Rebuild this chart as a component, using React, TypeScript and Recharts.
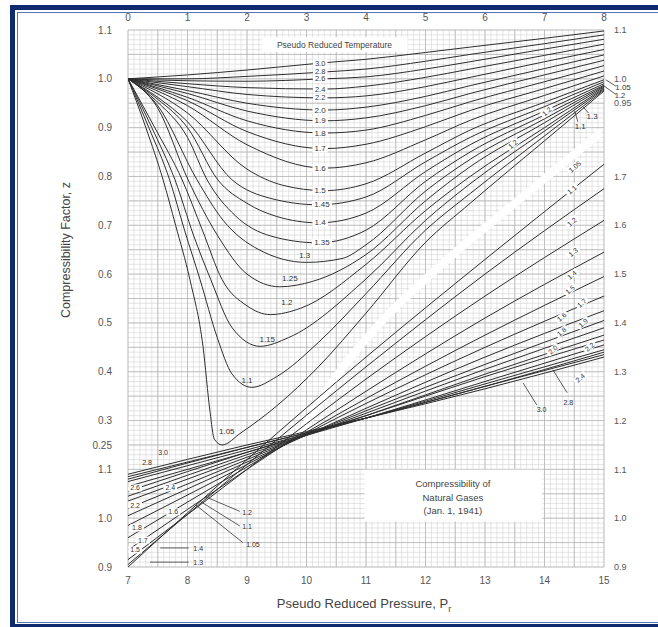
import React from 'react';
import {
  LineChart,
  Line,
  XAxis,
  YAxis,
  CartesianGrid,
  ReferenceArea,
  ReferenceDot,
  ReferenceLine,
} from 'recharts';

const FONT = '"Liberation Sans", Arial, sans-serif';

// ---------- axis ticks ----------
const topPrTicks = [0, 1, 2, 3, 4, 5, 6, 7, 8];
const bottomPrTicks = [7, 8, 9, 10, 11, 12, 13, 14, 15];
const leftZTicks = [0, 0.1, 0.2, 0.25, 0.3, 0.4, 0.5, 0.6, 0.7, 0.8, 0.9, 1.0, 1.1];
const rightZTicks = [0.9, 1.0, 1.1, 1.2, 1.3, 1.4, 1.5, 1.6, 1.7, 1.85, 1.9, 2.0];
const minorPrGrid = Array.from({ length: 81 }, (_, i) => i / 10);
const minorZGrid = Array.from({ length: 111 }, (_, i) => i / 100);
const majorPrGrid = Array.from({ length: 17 }, (_, i) => i / 2);
const majorZGrid = Array.from({ length: 23 }, (_, i) => i / 20);

// ---------- upper chart (Pr 0-8): [Pr, z] ----------
type P = [number, number];
const t300: P[] = [[0, 1], [1, 1.008], [2, 1.018], [3.3, 1.033], [4, 1.04], [5, 1.054], [5.75, 1.065], [7, 1.083], [8, 1.098]];
const t280: P[] = [[0, 1], [1, 1.0], [2, 1.005], [3.3, 1.014], [4, 1.02], [5, 1.036], [5.75, 1.05], [7, 1.072], [8, 1.09]];
const t260: P[] = [[0, 1], [1, 0.996], [2, 0.995], [3.3, 1.0], [4, 1.004], [5, 1.02], [5.75, 1.035], [7, 1.061], [8, 1.081]];
const t240: P[] = [[0, 1], [1, 0.99], [2, 0.982], [3.3, 0.979], [4, 0.985], [5, 1.003], [5.75, 1.02], [7, 1.048], [8, 1.071]];
const t220: P[] = [[0, 1], [1, 0.984], [2, 0.968], [3.3, 0.961], [4, 0.965], [5, 0.984], [5.75, 1.003], [7, 1.035], [8, 1.06]];
const t200: P[] = [[0, 1], [1, 0.976], [2, 0.95], [3.3, 0.936], [4, 0.942], [5, 0.964], [5.75, 0.986], [7, 1.021], [8, 1.049]];
const t190: P[] = [[0, 1], [1, 0.97], [2, 0.934], [3.3, 0.914], [4, 0.92], [5, 0.945], [5.75, 0.97], [7, 1.008], [8, 1.038]];
const t180: P[] = [[0, 1], [1, 0.962], [2, 0.914], [3.3, 0.889], [4, 0.895], [5, 0.925], [5.75, 0.953], [7, 0.994], [8, 1.027]];
const t170: P[] = [[0, 1], [1, 0.955], [2, 0.892], [3.3, 0.857], [4, 0.866], [5, 0.902], [5.75, 0.935], [7, 0.98], [8, 1.016]];
const t160: P[] = [[0, 1], [1, 0.945], [2, 0.865], [3.3, 0.817], [4, 0.828], [5, 0.875], [5.75, 0.915], [7, 0.966], [8, 1.006]];
const t150: P[] = [[0, 1], [1, 0.93], [2, 0.815], [2.6, 0.782], [3.3, 0.771], [4, 0.785], [5, 0.848], [5.75, 0.895], [7, 0.952], [8, 0.998]];
const t145: P[] = [[0, 1], [0.5, 0.962], [1, 0.912], [1.75, 0.793], [2.4, 0.755], [3.2, 0.742], [4, 0.758], [5, 0.83], [5.75, 0.88], [7, 0.943], [8, 0.994]];
const t140: P[] = [[0, 1], [0.5, 0.958], [1, 0.9], [1.51, 0.793], [2, 0.745], [2.5, 0.718], [3.2, 0.705], [4, 0.725], [5, 0.81], [5.75, 0.865], [7, 0.934], [8, 0.99]];
const t135: P[] = [[0, 1], [0.5, 0.952], [1, 0.88], [1.33, 0.793], [1.8, 0.72], [2.4, 0.678], [3.2, 0.664], [4, 0.69], [5, 0.79], [5.75, 0.85], [7, 0.926], [8, 0.987]];
const t130: P[] = [[0, 1], [0.5, 0.945], [1.16, 0.793], [1.6, 0.71], [2.2, 0.65], [3.0, 0.624], [3.6, 0.632], [4, 0.66], [5, 0.77], [5.75, 0.835], [7, 0.918], [8, 0.985]];
const t125: P[] = [[0, 1], [0.5, 0.94], [1.01, 0.793], [1.5, 0.68], [2.0, 0.6], [2.55, 0.574], [3.1, 0.585], [4, 0.64], [5, 0.75], [5.75, 0.82], [7, 0.91], [8, 0.983]];
const t120: P[] = [[0, 1], [0.45, 0.9], [0.91, 0.793], [1.25, 0.69], [1.58, 0.589], [2.0, 0.535], [2.39, 0.517], [2.9, 0.53], [4, 0.62], [5, 0.73], [5.75, 0.8], [7, 0.9], [8, 0.981]];
const t115: P[] = [[0, 1], [0.4, 0.9], [0.79, 0.793], [1.1, 0.68], [1.39, 0.589], [1.75, 0.49], [2.22, 0.452], [2.7, 0.47], [4, 0.59], [5, 0.71], [5.75, 0.785], [7, 0.893], [8, 0.979]];
const t110: P[] = [[0, 1], [0.35, 0.9], [0.7, 0.793], [0.95, 0.69], [1.21, 0.589], [1.5, 0.47], [1.75, 0.395], [2.08, 0.368], [2.5, 0.39], [3.2, 0.46], [4, 0.56], [5, 0.69], [5.75, 0.765], [7, 0.883], [8, 0.977]];
const t105: P[] = [[0, 1], [0.3, 0.9], [0.59, 0.793], [0.8, 0.7], [1.04, 0.589], [1.26, 0.452], [1.38, 0.317], [1.45, 0.262], [1.58, 0.25], [1.9, 0.275], [2.5, 0.33], [3.2, 0.41], [4, 0.52], [5, 0.665], [5.75, 0.745], [7, 0.873], [8, 0.975]];

const upperCurves: { tpr: string; pts: P[] }[] = [
  { tpr: '3.0', pts: t300 }, { tpr: '2.8', pts: t280 }, { tpr: '2.6', pts: t260 },
  { tpr: '2.4', pts: t240 }, { tpr: '2.2', pts: t220 }, { tpr: '2.0', pts: t200 },
  { tpr: '1.9', pts: t190 }, { tpr: '1.8', pts: t180 }, { tpr: '1.7', pts: t170 },
  { tpr: '1.6', pts: t160 }, { tpr: '1.5', pts: t150 }, { tpr: '1.45', pts: t145 },
  { tpr: '1.4', pts: t140 }, { tpr: '1.35', pts: t135 }, { tpr: '1.3', pts: t130 },
  { tpr: '1.25', pts: t125 }, { tpr: '1.2', pts: t120 }, { tpr: '1.15', pts: t115 },
  { tpr: '1.1', pts: t110 }, { tpr: '1.05', pts: t105 },
];

// blank strip between the two families of curves
const gapBand: P[] = [[2.85, 0.262], [3.5, 0.39], [4.24, 0.5], [5.0, 0.59], [5.75, 0.67], [6.6, 0.755], [7.38, 0.834], [7.95, 0.89]];

// ---------- lower chart (Pr 7-15) ----------
const lowerPr = [7, 9, 11, 13, 15];
const lowerCurves: { tpr: string; z: number[] }[] = [
  { tpr: '1.05', z: [0.9, 1.12, 1.33, 1.53, 1.725] },
  { tpr: '1.1', z: [0.905, 1.11, 1.31, 1.5, 1.675] },
  { tpr: '1.2', z: [0.915, 1.1, 1.285, 1.455, 1.61] },
  { tpr: '1.3', z: [0.935, 1.1, 1.26, 1.41, 1.545] },
  { tpr: '1.4', z: [0.96, 1.105, 1.245, 1.375, 1.495] },
  { tpr: '1.5', z: [0.985, 1.11, 1.235, 1.35, 1.455] },
  { tpr: '1.6', z: [1.005, 1.115, 1.225, 1.33, 1.425] },
  { tpr: '1.7', z: [1.02, 1.12, 1.22, 1.315, 1.405] },
  { tpr: '1.8', z: [1.035, 1.125, 1.215, 1.305, 1.39] },
  { tpr: '1.9', z: [1.045, 1.13, 1.21, 1.295, 1.375] },
  { tpr: '2.0', z: [1.055, 1.135, 1.21, 1.29, 1.365] },
  { tpr: '2.2', z: [1.065, 1.135, 1.205, 1.28, 1.355] },
  { tpr: '2.4', z: [1.075, 1.14, 1.205, 1.275, 1.345] },
  { tpr: '2.6', z: [1.08, 1.145, 1.205, 1.27, 1.34] },
  { tpr: '2.8', z: [1.085, 1.145, 1.205, 1.27, 1.335] },
  { tpr: '3.0', z: [1.09, 1.15, 1.205, 1.265, 1.33] },
];

// ---------- labels: [text, Pr, z, size, whiteBg, angle] ----------
type Tag = [string, number, number, number, boolean, number];
const upperTags: Tag[] = [
  ['3.0', 3.23, 1.032, 7.5, true, 0], ['2.8', 3.23, 1.016, 7.5, true, 0], ['2.6', 3.23, 1.0, 7.5, true, 0],
  ['2.4', 3.23, 0.979, 7.5, true, 0], ['2.2', 3.23, 0.961, 7.5, true, 0], ['2.0', 3.23, 0.936, 8, true, 0],
  ['1.9', 3.23, 0.914, 8, true, 0], ['1.8', 3.23, 0.889, 8, true, 0], ['1.7', 3.23, 0.857, 8, true, 0],
  ['1.6', 3.23, 0.817, 8, true, 0], ['1.5', 3.23, 0.771, 8, true, 0], ['1.45', 3.26, 0.742, 8, true, 0],
  ['1.4', 3.23, 0.705, 8, true, 0], ['1.35', 3.26, 0.664, 8, true, 0],
  ['1.3', 2.97, 0.638, 8, false, 0], ['1.25', 2.72, 0.59, 8, false, 0], ['1.2', 2.67, 0.541, 8, false, 0],
  ['1.15', 2.34, 0.465, 8, false, 0], ['1.1', 2.0, 0.382, 8, false, 0], ['1.05', 1.66, 0.278, 8, false, 0],
  ['1.3', 7.8, 0.922, 8, false, 0], ['1.1', 7.6, 0.902, 8, false, 0],
  ['1.2', 7.04, 0.933, 7, true, -40], ['1.2', 6.47, 0.866, 7, true, -40],
  ['1.05', 8.32, 0.982, 8, false, 0], ['1.2', 8.27, 0.966, 7.5, false, 0],
];
const lowerTags: Tag[] = [
  ['1.05', 14.51, 1.72, 7, true, -40], ['1.1', 14.46, 1.673, 7, true, -40], ['1.2', 14.46, 1.607, 7, true, -40],
  ['1.3', 14.48, 1.545, 7, true, -40], ['1.4', 14.46, 1.498, 7, true, -40], ['1.5', 14.43, 1.468, 7, true, -40],
  ['1.6', 14.29, 1.412, 7, true, -40], ['1.7', 14.63, 1.441, 7, true, -40], ['1.8', 14.29, 1.382, 7, true, -40],
  ['1.9', 14.65, 1.4, 7, true, -40], ['2.0', 14.14, 1.345, 7, true, -40], ['2.2', 14.76, 1.351, 7, true, -40],
  ['2.4', 14.6, 1.287, 7, true, -40], ['2.8', 14.4, 1.236, 7, false, 0], ['3.0', 13.95, 1.222, 7, false, 0],
  ['3.0', 7.59, 1.134, 7, false, 0], ['2.8', 7.32, 1.115, 7, false, 0], ['2.6', 7.12, 1.062, 7, true, 0],
  ['2.4', 7.71, 1.062, 7, true, 0], ['2.2', 7.12, 1.027, 7, true, 0], ['1.6', 7.76, 1.013, 7, true, 0],
  ['1.8', 7.15, 0.98, 7, true, 0], ['1.7', 7.25, 0.955, 7, true, 0], ['1.5', 7.12, 0.935, 7, true, 0],
  ['1.4', 8.18, 0.937, 7, false, 0], ['1.3', 8.18, 0.91, 7, false, 0],
  ['1.2', 9.0, 1.012, 7, false, 0], ['1.1', 9.0, 0.982, 7, false, 0], ['1.05', 9.1, 0.947, 7, false, 0],
];

// leader lines: [x1, z1, x2, z2]
const upperLeaders: number[][] = [
  [8.03, 0.998, 8.2, 0.985], [7.97, 0.988, 8.2, 0.968],
  [7.65, 0.942, 7.74, 0.93], [7.51, 0.934, 7.56, 0.912],
];
const lowerLeaders: number[][] = [
  [7.54, 0.939, 8.02, 0.939], [7.37, 0.91, 8.02, 0.91],
  [8.3, 1.044, 8.88, 1.014], [8.22, 1.034, 8.88, 0.984], [8.14, 1.027, 8.93, 0.95],
  [13.64, 1.277, 13.87, 1.232], [14.14, 1.304, 14.38, 1.257],
];

const boxText = ['Compressibility of', 'Natural Gases', '(Jan. 1, 1941)'];

const rows = (pts: P[]) => pts.map(([pr, z]) => ({ pr, z }));

const fmtLeft = (v: number) =>
  v < 0.24 ? (v + 0.9).toFixed(1) : Math.abs(v - 0.25) < 1e-6 ? '0.25' : v.toFixed(1);
const fmtRight = (v: number) =>
  v > 1.8 ? (Math.abs(v - 1.85) < 1e-6 ? '0.95' : (v - 0.9).toFixed(1)) : v.toFixed(1);

const tagShape = (t: Tag) => (p: any) => {
  const [text, , , size, bg, angle] = t;
  const { cx, cy } = p;
  const w = text.length * size * 0.56 + 2;
  return (
    <g transform={angle ? `rotate(${angle} ${cx} ${cy})` : undefined}>
      {bg && <rect x={cx - w / 2} y={cy - size * 0.5} width={w} height={size} fill="#fff" />}
      <text x={cx} y={cy} textAnchor="middle" dominantBaseline="central" fontSize={size} fill="#333" fontFamily={FONT}>
        {text}
      </text>
    </g>
  );
};

const boxShape = (p: any) => {
  const { cx, cy } = p;
  return (
    <g>
      {boxText.map((s, i) => (
        <text key={i} x={cx} y={cy + (i - 1) * 13.5} textAnchor="middle" dominantBaseline="central" fontSize={9.5} fill="#444" fontFamily={FONT}>
          {s}
        </text>
      ))}
    </g>
  );
};

const titleShape = (p: any) => (
  <text x={p.cx} y={p.cy} textAnchor="middle" dominantBaseline="central" fontSize={8.5} fill="#444" fontFamily={FONT}>
    Pseudo Reduced Temperature
  </text>
);

const tickStyle = { fontSize: 10, fill: '#555', fontFamily: FONT };
const rightTickStyle = { fontSize: 9, fill: '#555', fontFamily: FONT };

export default function App() {
  return (
    <div style={{ position: 'absolute', left: 0, top: 0, width: 658, height: 627, overflow: 'hidden', background: '#fff' }}>
      {/* frame */}
      <div style={{ position: 'absolute', left: 10, top: 5, width: 700, height: 700, border: '5px solid #0f2a6e', boxSizing: 'border-box', borderRight: 'none' }} />
      <div style={{ position: 'absolute', left: 10, top: 624, width: 700, height: 5, background: '#0f2a6e' }} />
      <div style={{ position: 'absolute', left: 17, top: 12, width: 700, height: 611, border: '1.5px solid #5a76b2', boxSizing: 'border-box', borderRight: 'none' }} />

      <LineChart width={658} height={627} margin={{ top: 10, right: 14, bottom: 35, left: 88 }} style={{ position: 'absolute', left: 0, top: 0 }}>
        <XAxis xAxisId="top" orientation="top" type="number" dataKey="pr" domain={[0, 8]} ticks={topPrTicks} allowDataOverflow
          axisLine={false} tickLine={false} height={20} tick={tickStyle} tickMargin={3} interval={0} />
        <XAxis xAxisId="bottom" orientation="bottom" type="number" dataKey="pr" domain={[7, 15]} ticks={bottomPrTicks} allowDataOverflow
          axisLine={false} tickLine={false} height={25} tick={tickStyle} tickMargin={4} interval={0} />
        <YAxis yAxisId="left" orientation="left" type="number" domain={[0, 1.1]} ticks={leftZTicks} allowDataOverflow
          axisLine={false} tickLine={false} width={40} tick={tickStyle} tickFormatter={fmtLeft} tickMargin={10} interval={0} />
        <YAxis yAxisId="right" orientation="right" type="number" domain={[0.9, 2.0]} ticks={rightZTicks} allowDataOverflow
          axisLine={false} tickLine={false} width={40} tick={rightTickStyle} tickFormatter={fmtRight} tickMargin={4} interval={0} />

        <CartesianGrid xAxisId="top" yAxisId="left" stroke="#d4d4d4" strokeWidth={0.6}
          horizontalValues={minorZGrid} verticalValues={minorPrGrid} />
        <CartesianGrid xAxisId="top" yAxisId="left" stroke="#b2b2b2" strokeWidth={0.7}
          horizontalValues={majorZGrid} verticalValues={majorPrGrid} />

        <Line xAxisId="top" yAxisId="left" data={rows(gapBand)} dataKey="z" type="monotone" stroke="#ffffff" strokeWidth={8}
          dot={false} isAnimationActive={false} />

        <ReferenceArea xAxisId="top" yAxisId="left" x1={2.25} x2={4.7} y1={1.055} y2={1.085} fill="#ffffff" fillOpacity={1} stroke="none" />
        <ReferenceArea xAxisId="bottom" yAxisId="right" x1={10.98} x2={13.96} y1={0.993} y2={1.099} fill="#ffffff" fillOpacity={1} stroke="none" />

        {upperCurves.map((c) => (
          <Line key={'u' + c.tpr} xAxisId="top" yAxisId="left" data={rows(c.pts)} dataKey="z" type="monotone"
            stroke="#2e2e2e" strokeWidth={1} dot={false} isAnimationActive={false} />
        ))}
        {lowerCurves.map((c) => (
          <Line key={'l' + c.tpr} xAxisId="bottom" yAxisId="right" data={lowerPr.map((pr, i) => ({ pr, z: c.z[i] }))} dataKey="z"
            type="monotone" stroke="#2e2e2e" strokeWidth={1} dot={false} isAnimationActive={false} />
        ))}

        {upperLeaders.map((s, i) => (
          <ReferenceLine key={'ul' + i} xAxisId="top" yAxisId="left" ifOverflow="visible" stroke="#333" strokeWidth={0.8}
            segment={[{ x: s[0], y: s[1] }, { x: s[2], y: s[3] }]} />
        ))}
        {lowerLeaders.map((s, i) => (
          <ReferenceLine key={'ll' + i} xAxisId="bottom" yAxisId="right" ifOverflow="visible" stroke="#333" strokeWidth={0.8}
            segment={[{ x: s[0], y: s[1] }, { x: s[2], y: s[3] }]} />
        ))}

        {upperTags.map((t, i) => (
          <ReferenceDot key={'ut' + i} xAxisId="top" yAxisId="left" x={t[1]} y={t[2]} r={3} ifOverflow="visible" shape={tagShape(t)} />
        ))}
        {lowerTags.map((t, i) => (
          <ReferenceDot key={'lt' + i} xAxisId="bottom" yAxisId="right" x={t[1]} y={t[2]} r={3} ifOverflow="visible" shape={tagShape(t)} />
        ))}
        <ReferenceDot xAxisId="top" yAxisId="left" x={3.47} y={1.07} r={3} ifOverflow="visible" shape={titleShape} />
        <ReferenceDot xAxisId="bottom" yAxisId="right" x={12.46} y={1.043} r={3} ifOverflow="visible" shape={boxShape} />
      </LineChart>

      <div style={{ position: 'absolute', left: 66, top: 250, transform: 'translate(-50%, -50%) rotate(-90deg)', whiteSpace: 'nowrap',
        fontFamily: FONT, fontSize: 12.5, color: '#444' }}>
        Compressibility Factor, z
      </div>
      <div style={{ position: 'absolute', left: 364, top: 605, transform: 'translate(-50%, -50%)', whiteSpace: 'nowrap',
        fontFamily: FONT, fontSize: 13, color: '#444' }}>
        Pseudo Reduced Pressure, P<sub style={{ fontSize: 9 }}>r</sub>
      </div>
    </div>
  );
}
